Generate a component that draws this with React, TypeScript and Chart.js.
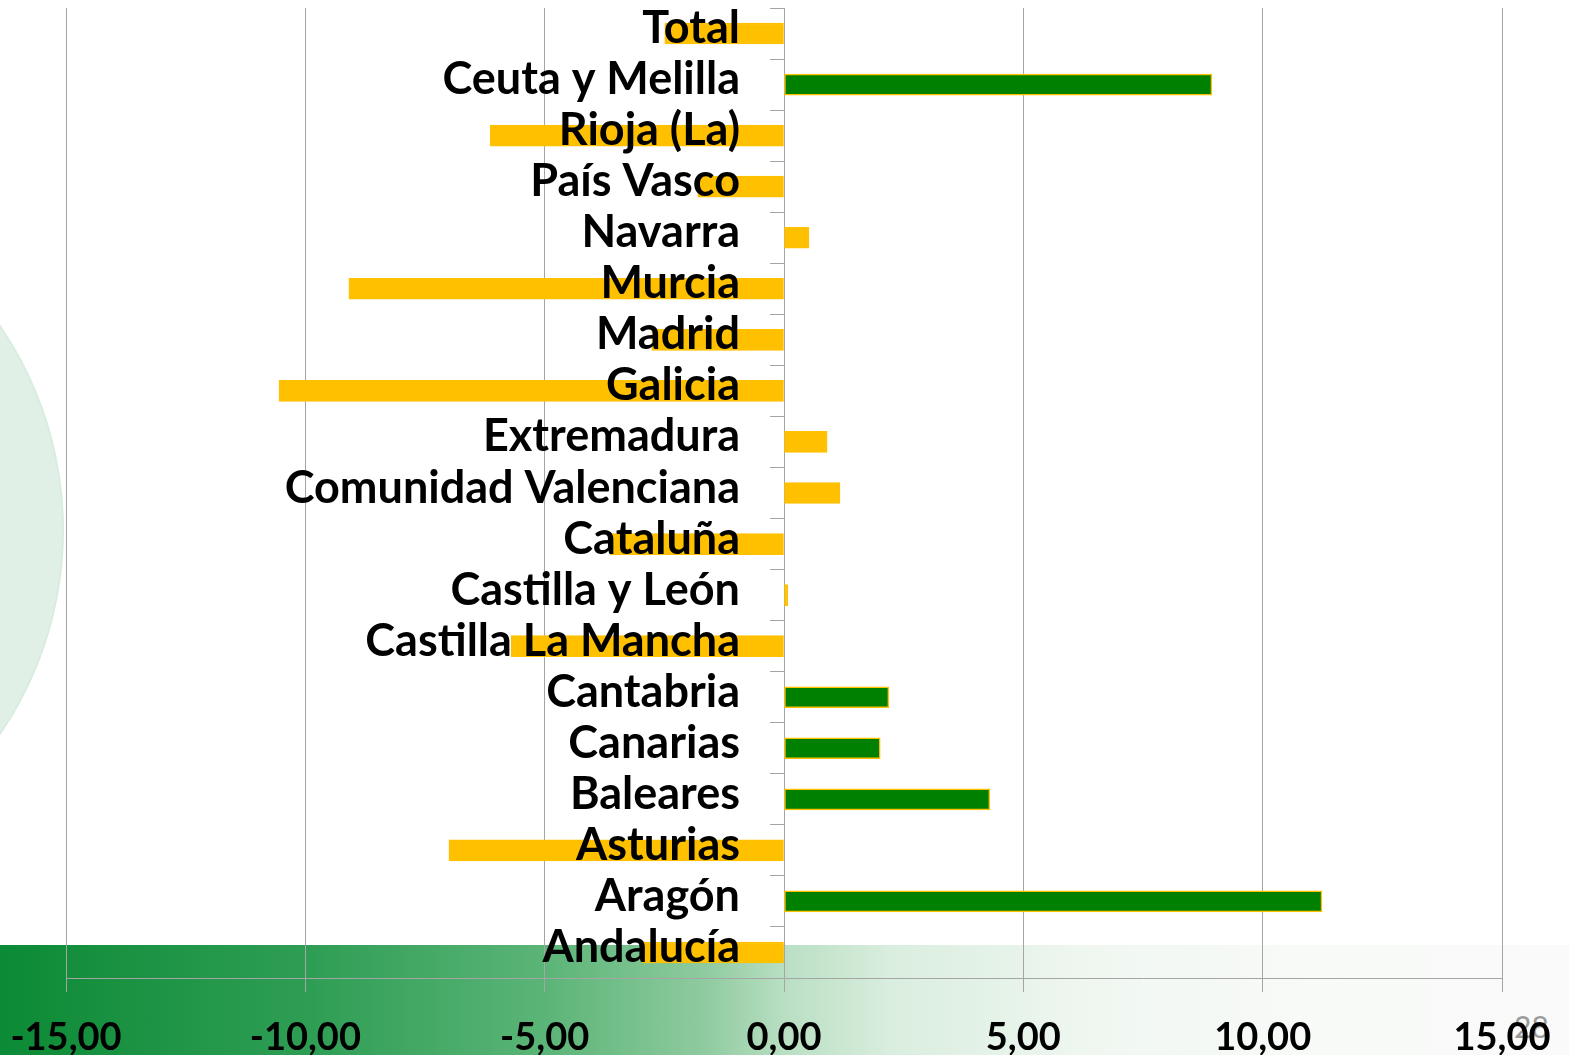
import { useEffect, useRef } from 'react';
import { Chart, registerables } from 'chart.js';

Chart.register(...registerables);

const categories = [
  'Total',
  'Ceuta y Melilla',
  'Rioja (La)',
  'País Vasco',
  'Navarra',
  'Murcia',
  'Madrid',
  'Galicia',
  'Extremadura',
  'Comunidad Valenciana',
  'Cataluña',
  'Castilla y León',
  'Castilla La Mancha',
  'Cantabria',
  'Canarias',
  'Baleares',
  'Asturias',
  'Aragón',
  'Andalucía',
];

const values = [
  -2.49, 8.94, -6.14, -1.8, 0.52, -9.09, -2.76, -10.55, 0.9, 1.17, -3.63, 0.08, -5.7, 2.19, 2.01, 4.3, -7.0,
  11.24, -2.97,
];

const YELLOW = '#FFC000';
const GREEN = '#008000';

const barColors = [
  YELLOW, GREEN, YELLOW, YELLOW, YELLOW, YELLOW, YELLOW, YELLOW, YELLOW, YELLOW, YELLOW, YELLOW, YELLOW, GREEN,
  GREEN, GREEN, YELLOW, GREEN, YELLOW,
];

const X_MIN = -15;
const X_MAX = 15;
const X_STEP = 5;

const W = 1569;
const H = 1055;

export default function App() {
  const ref = useRef<HTMLCanvasElement>(null);

  useEffect(() => {
    const chart = new Chart(ref.current as HTMLCanvasElement, {
      type: 'bar',
      data: {
        labels: categories,
        datasets: [
          {
            data: values,
            backgroundColor: barColors,
            borderColor: YELLOW,
            borderWidth: 1.5,
            borderSkipped: false,
            barThickness: 21,
          },
        ],
      },
      options: {
        indexAxis: 'y',
        responsive: false,
        animation: false,
        layout: { padding: { top: 8, left: 66, right: 67, bottom: 0 } },
        plugins: { legend: { display: false }, tooltip: { enabled: false } },
        scales: {
          x: {
            type: 'linear',
            min: X_MIN,
            max: X_MAX,
            ticks: {
              stepSize: X_STEP,
              callback: (v: any) => Number(v).toFixed(2).replace('.', ','),
              color: '#000',
              font: { family: 'Lato', weight: 'bold', size: 38 },
              padding: 23,
              maxRotation: 0,
              autoSkip: false,
            },
            grid: { color: '#A5A5A5', lineWidth: 1, tickLength: 14, drawTicks: true },
            border: { color: '#A5A5A5', width: 1 },
            afterFit: (s: any) => {
              s.height = 77;
              s.paddingLeft = 0;
              s.paddingRight = 0;
            },
          },
          y: {
            type: 'category',
            position: 'right',
            offset: true,
            grid: { display: false, drawTicks: false, offset: true },
            border: { display: false },
            ticks: {
              z: 1,
              mirror: true,
              crossAlign: 'near',
              padding: -762,
              labelOffset: -5,
              color: '#000',
              font: { family: 'Lato', weight: 'bold', size: 45 },
              autoSkip: false,
            },
            afterFit: (s: any) => {
              s.width = 0;
              s.paddingTop = 0;
              s.paddingBottom = 0;
            },
          },
          y2: {
            type: 'category',
            axis: 'y',
            position: { x: 0 },
            offset: true,
            grid: { offset: true, drawOnChartArea: false, drawTicks: true, tickLength: 14, color: '#A5A5A5' },
            border: { display: false },
            ticks: { display: false },
            afterFit: (s: any) => {
              s.width = 0;
              s.paddingTop = 0;
              s.paddingBottom = 0;
            },
          },
        } as any,
      },
    });
    return () => chart.destroy();
  }, []);

  return (
    <div
      style={{
        position: 'absolute',
        top: 0,
        left: 0,
        width: W,
        height: H,
        overflow: 'hidden',
        background: '#FFFFFF',
      }}
    >
      <div
        style={{
          position: 'absolute',
          left: -298 - 360,
          top: 530 - 360,
          width: 720,
          height: 720,
          borderRadius: '50%',
          background: '#E1F0E6',
          boxShadow: '0 0 0 2px #D8ECDF',
        }}
      />
      <div
        style={{
          position: 'absolute',
          left: 0,
          top: 945,
          width: W,
          height: H - 945,
          background:
            'linear-gradient(to right, #0C8A35 0%, #2F9E55 20%, #5CB578 35%, #8FCB9F 45%, #B9DFC3 50%, #DAEEDF 57%, #F0F7F1 70%, #F8FAF8 83%, #F9FAF9 100%)',
        }}
      />
      <div
        style={{
          position: 'absolute',
          left: 1514,
          top: 1008,
          fontFamily: 'Lato',
          fontSize: 30,
          color: '#9A9A9A',
        }}
      >
        28
      </div>
      <canvas ref={ref} width={W} height={H} style={{ position: 'absolute', left: 0, top: 0, display: 'block' }} />
    </div>
  );
}
